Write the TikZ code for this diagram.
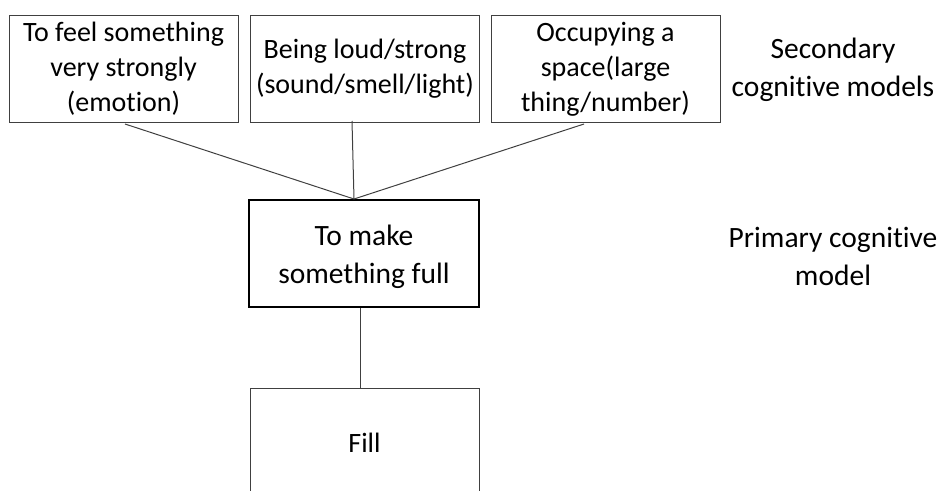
\documentclass[tikz,border=0pt]{standalone}
\usepackage{fontspec}
\setmainfont[Ligatures={NoCommon}]{Carlito}
\begin{document}
\begin{tikzpicture}[x=1pt,y=-1pt,
  every node/.style={align=center, inner sep=0pt},
  small/.style={font=\fontsize{28}{35}\selectfont},
  big/.style={font=\fontsize{29.5}{38}\selectfont},
  secbox/.style={small, draw=black!75, line width=1pt, minimum width=229pt, minimum height=107pt},
  primbox/.style={big, draw=black, line width=2.2pt, minimum width=230pt, minimum height=107pt},
  conn/.style={draw=black!75, line width=1pt}]
\useasboundingbox (0,0) rectangle (941,490);
\clip (0,0) rectangle (941,490);
\node[secbox] (s1) at (123.5,69) {To feel something\\very strongly\\(emotion)};
\node[secbox] (s2) at (365,68.5) {Being loud/strong\\(sound/smell/light)};
\node[secbox] (s3) at (605.5,69) {Occupying a\\space(large\\thing/number)};
\node[primbox] (p) at (364,253.5) {};
\node[big] (pt) at (364,257) {To make\\something full};
\node[secbox, minimum height=110pt] (f) at (364.5,443) {Fill};
\node[big] (t1) at (833,70) {Secondary\\cognitive models};
\node[big] (t2) at (833,256) {Primary cognitive\\model};
\coordinate (m) at (354,199);
\coordinate (a1) at (125,124);
\coordinate (a2) at (352,121);
\coordinate (a3) at (584,124);
\draw[conn] (a1) -- (m);
\draw[conn] (a2) -- (m);
\draw[conn] (a3) -- (m);
\draw[conn] (p.south -| 360,0) -- (f.north -| 360,0);
\end{tikzpicture}
\end{document}
